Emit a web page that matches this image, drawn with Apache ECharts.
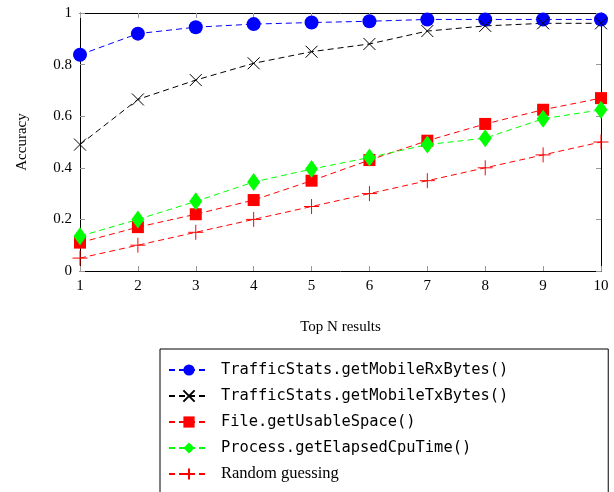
<!DOCTYPE html>
<html><head><meta charset="utf-8">
<script src="https://cdn.jsdelivr.net/npm/echarts@6/dist/echarts.min.js"></script>
<style>html,body{margin:0;padding:0;background:#fff}#c{width:614px;height:492px}</style>
</head><body><div id="c"></div>
<script>
const topN = [1,2,3,4,5,6,7,8,9,10];
const rxBytes = [0.838,0.92,0.945,0.957,0.963,0.968,0.975,0.975,0.975,0.975];
const txBytes = [0.49,0.665,0.74,0.805,0.85,0.88,0.93,0.95,0.96,0.96];
const usableSpace = [0.11,0.17,0.22,0.275,0.35,0.43,0.505,0.57,0.625,0.67];
const cpuTime = [0.135,0.2,0.27,0.345,0.395,0.44,0.49,0.515,0.59,0.625];
const randomGuess = [0.05,0.1,0.15,0.2,0.25,0.3,0.35,0.4,0.45,0.5];
const yTicks = [0,0.2,0.4,0.6,0.8,1];

const serif = '"Liberation Serif", "DejaVu Serif", serif';
const mono = '"DejaVu Sans Mono", "Liberation Mono", monospace';
const pts = arr => topN.map((x,i)=>[x,arr[i]]);
const dash = [6,4];

function mk(name, data, color, symbol, size, extra) {
  return Object.assign({
    name, type:'line', data: pts(data), symbol, symbolSize:size,
    lineStyle:{color, width:1, type:dash},
    itemStyle:{color},
    showAllSymbol:true, animation:false, z:3
  }, extra||{});
}

const tick = {show:true, inside:true, length:5, lineStyle:{color:'#999'}};
const chart = echarts.init(document.getElementById('c'), null, {renderer:'canvas'});
chart.setOption({
  animation:false,
  grid:{left:80, right:13, top:13, bottom:221},
  xAxis:[{
    type:'value', min:1, max:10, interval:1,
    name:'Top N results', nameLocation:'middle', nameGap:49,
    nameTextStyle:{fontFamily:serif, fontSize:15, color:'#000'},
    axisLine:{show:true, onZero:false, lineStyle:{color:'#000'}},
    axisTick:tick,
    axisLabel:{fontFamily:serif, fontSize:15, color:'#000', margin:8},
    splitLine:{show:false}
  },{
    type:'value', min:1, max:10, interval:1, position:'top',
    axisLine:{show:true, onZero:false, lineStyle:{color:'#000'}},
    axisTick:tick,
    axisLabel:{show:false}, splitLine:{show:false}
  }],
  yAxis:[{
    type:'value', min:0, max:1, interval:0.2,
    name:'Accuracy', nameLocation:'middle', nameGap:50, nameRotate:90,
    nameTextStyle:{fontFamily:serif, fontSize:15, color:'#000'},
    axisLine:{show:true, onZero:false, lineStyle:{color:'#000'}},
    axisTick:tick,
    axisLabel:{fontFamily:serif, fontSize:15, color:'#000', margin:8,
      formatter: v => { const t = yTicks.find(k=>Math.abs(k-v)<1e-9); return t===undefined? '' : String(t); }},
    splitLine:{show:false}
  },{
    type:'value', min:0, max:1, interval:0.2, position:'right',
    axisLine:{show:true, onZero:false, lineStyle:{color:'#000'}},
    axisTick:tick,
    axisLabel:{show:false}, splitLine:{show:false}
  }],
  legend:{
    orient:'vertical', left:160, top:349, height:200,
    padding:[12,100,14,8], itemGap:8, itemWidth:40, itemHeight:14,
    borderColor:'#000', borderWidth:1, borderRadius:0,
    textStyle:{fontSize:15.4, color:'#000',
      rich:{m:{fontFamily:mono, fontSize:15.4, color:'#000', padding:[0,0,0,7], height:18, lineHeight:18},
            s:{fontFamily:serif, fontSize:16.5, color:'#000', padding:[0,0,0,7], height:18, lineHeight:18}}},
    formatter: n => n==='Random guessing' ? '{s|'+n+'}' : '{m|'+n+'}',
    data:['TrafficStats.getMobileRxBytes()','TrafficStats.getMobileTxBytes()','File.getUsableSpace()','Process.getElapsedCpuTime()','Random guessing']
  },
  series:[
    mk('TrafficStats.getMobileRxBytes()', rxBytes, '#0000ff', 'circle', 14),
    mk('TrafficStats.getMobileTxBytes()', txBytes, '#000', 'path://M0,0L10,10M10,0L0,10', 12,
      {itemStyle:{color:'none', borderColor:'#000', borderWidth:1}}),
    mk('File.getUsableSpace()', usableSpace, '#ff0000', 'rect', 12),
    mk('Process.getElapsedCpuTime()', cpuTime, '#00ff00', 'diamond', [13,18]),
    mk('Random guessing', randomGuess, '#ff0000', 'path://M5,0L5,10M0,5L10,5', 15,
      {itemStyle:{color:'none', borderColor:'#ff0000', borderWidth:1}})
  ]
});
</script></body></html>
